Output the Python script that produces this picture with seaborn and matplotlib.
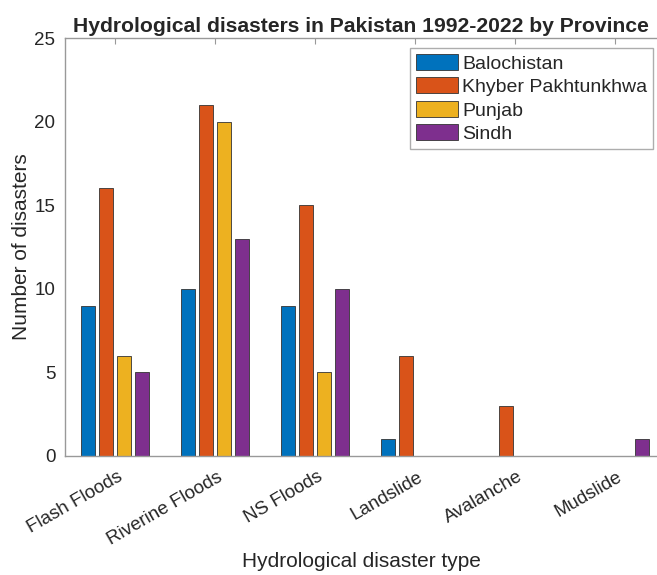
import pandas as pd
import seaborn as sns
import matplotlib.pyplot as plt
from matplotlib.transforms import ScaledTranslation

categories = ['Flash Floods', 'Riverine Floods', 'NS Floods', 'Landslide', 'Avalanche', 'Mudslide']
provinces = ['Balochistan', 'Khyber Pakhtunkhwa', 'Punjab', 'Sindh']
balochistan = [9, 10, 9, 1, 0, 0]
khyber = [16, 21, 15, 6, 3, 0]
punjab = [6, 20, 5, 0, 0, 0]
sindh = [5, 13, 10, 0, 0, 1]
colors = ['#0072BD', '#D95319', '#EDB120', '#7E2F8E']

rows = []
for prov, vals in zip(provinces, [balochistan, khyber, punjab, sindh]):
    for cat, v in zip(categories, vals):
        rows.append({'type': cat, 'province': prov, 'count': v})
df = pd.DataFrame(rows)

sns.set_style('white')
plt.rcParams['font.family'] = ['Liberation Sans', 'DejaVu Sans']

fig = plt.figure(figsize=(6.57, 5.75), dpi=100)
ax = fig.add_axes([0.0989, 0.207, 0.9011, 0.7269])

sns.barplot(data=df, x='type', y='count', hue='province', order=categories,
            hue_order=provinces, palette=colors, saturation=1, width=0.72, gap=0.17,
            edgecolor='#333333', linewidth=0.6, ax=ax)

ax.set_xlim(-0.5, 5.42)
ax.set_ylim(0, 25)
ax.set_yticks([0, 5, 10, 15, 20, 25])
ax.tick_params(axis='y', labelsize=13.5, colors='#262626', direction='in', length=4, pad=7,
               color='#999999')
ax.tick_params(axis='x', labelsize=13.5, colors='#262626', direction='in', length=4, pad=9,
               color='#999999', top=True)
offset = ScaledTranslation(2 / 100, 0, fig.dpi_scale_trans)
for lab in ax.get_xticklabels():
    lab.set_rotation(30)
    lab.set_ha('right')
    lab.set_rotation_mode('anchor')
    lab.set_transform(lab.get_transform() + offset)

ax.set_title('Hydrological disasters in Pakistan 1992-2022 by Province',
             fontsize=15.2, fontweight='bold', pad=4)
ax.set_xlabel('Hydrological disaster type', fontsize=15, color='#262626', labelpad=3)
ax.set_ylabel('Number of disasters', fontsize=15, color='#262626', labelpad=2)

for s in ['left', 'bottom', 'top']:
    ax.spines[s].set_color('#999999')
    ax.spines[s].set_linewidth(1.0)
ax.spines['right'].set_visible(False)

leg = ax.legend(loc='upper right', fontsize=14, frameon=True, fancybox=False,
                handlelength=2.15, handleheight=0.9, handletextpad=0.25,
                labelspacing=0.24, borderpad=0.3, borderaxespad=0,
                bbox_to_anchor=(0.994, 0.976))
leg.get_frame().set_edgecolor('#999999')
leg.get_frame().set_linewidth(1.0)

fig.savefig('out.png', dpi=100)
